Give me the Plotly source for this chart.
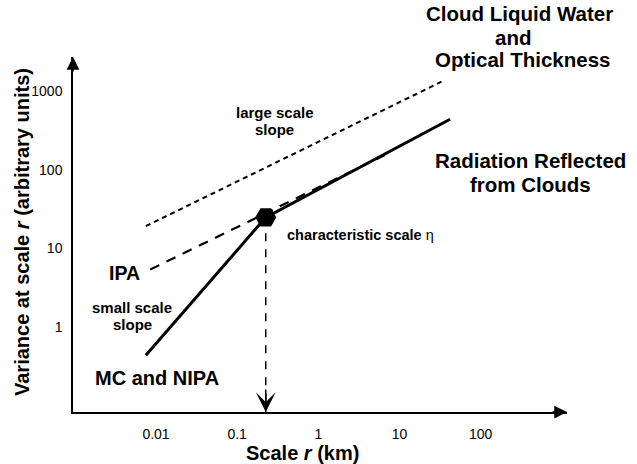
import numpy as np
import plotly.graph_objects as go

# ---- data ----
solid_x = [0.0075, 0.225, 42.0]          # MC / NIPA -> characteristic scale -> radiation
solid_y = [0.44, 24.8, 435.0]
ipa_x = [0.0085, 6.6]                     # IPA dashed line
ipa_y = [5.4, 153.0]
large_x = [0.0075, 33.0]                  # large-scale slope (dotted)
large_y = [19.2, 1306.0]
char_x = [0.225]                          # characteristic scale eta
char_y = [24.8]

x_tickvals = [0.01, 0.1, 1, 10, 100]
x_ticktext = ["0.01", "0.1", "1", "10", "100"]
y_tickvals = [1, 10, 100, 1000]
y_ticktext = ["1", "10", "100", "1000"]

x_range_log = [-3.023, 3.064]
y_range_log = [-1.076, 3.429]

W, H = 637, 464
ML, MR, MT, MB = 73, 70, 57, 52
PW, PH = W - ML - MR, H - MT - MB

FONT = "Liberation Sans, Arial, Helvetica, sans-serif"


def px(x):
    return (x - ML) / PW


def py(y):
    return (H - MB - y) / PH


fig = go.Figure()

fig.add_trace(go.Scatter(x=large_x, y=large_y, mode="lines",
                         line=dict(color="black", width=2, dash="5px,4px"),
                         hoverinfo="skip", showlegend=False))
fig.add_trace(go.Scatter(x=ipa_x, y=ipa_y, mode="lines",
                         line=dict(color="black", width=2.2, dash="10px,8px"),
                         hoverinfo="skip", showlegend=False))
fig.add_trace(go.Scatter(x=solid_x, y=solid_y, mode="lines",
                         line=dict(color="black", width=3),
                         hoverinfo="skip", showlegend=False))
# vertical dashed drop from characteristic scale to the x axis
y_bottom = 10 ** y_range_log[0]
fig.add_trace(go.Scatter(x=[char_x[0], char_x[0]], y=[char_y[0], y_bottom], mode="lines",
                         line=dict(color="black", width=1.5, dash="8px,8px"),
                         hoverinfo="skip", showlegend=False))
fig.add_trace(go.Scatter(x=char_x, y=char_y, mode="markers",
                         marker=dict(symbol="hexagon2", size=21, color="black"),
                         hoverinfo="skip", showlegend=False))

ann = []
# axis arrowheads
ann.append(dict(x=1, y=0, xref="paper", yref="paper", ax=-16, ay=0, text="",
                showarrow=True, arrowhead=2, arrowsize=1.7, arrowwidth=1.5, arrowcolor="black"))
ann.append(dict(x=0, y=1, xref="paper", yref="paper", ax=0, ay=16, text="",
                showarrow=True, arrowhead=2, arrowsize=1.7, arrowwidth=1.5, arrowcolor="black"))
# arrow on the characteristic-scale drop line
ann.append(dict(x=np.log10(char_x[0]), y=y_range_log[0], xref="x", yref="y", ax=0, ay=-24, text="",
                showarrow=True, arrowhead=3, arrowsize=2.2, arrowwidth=1.5, arrowcolor="black"))


def label(text, x, y, size, xanchor="center", angle=0):
    ann.append(dict(x=px(x), y=py(y), xref="paper", yref="paper", text=text,
                    showarrow=False, xanchor=xanchor, yanchor="middle", textangle=angle,
                    font=dict(family=FONT, size=size, color="black")))


label("<b>Cloud Liquid Water</b>", 519, 14, 20.5)
label("<b>and</b>", 513, 37, 20.5)
label("<b>Optical Thickness</b>", 522, 60, 20.5)
label("<b>Radiation Reflected</b>", 530, 160, 20.5)
label("<b>from Clouds</b>", 530, 184, 20.5)
label("<b>large scale</b>", 275, 112, 15)
label("<b>slope</b>", 274, 129, 15)
label("<b>small scale</b>", 131.5, 307.5, 15)
label("<b>slope</b>", 132, 324.5, 15)
label("<b>IPA</b>", 124, 272.5, 19.5)
label("<b>MC and NIPA</b>", 156.5, 377.5, 20)
label("<b>characteristic scale</b> η", 285, 235, 14.5, xanchor="left")
label("<b>Scale <i>r</i> (km)</b>", 302.5, 453, 20)
label("<b>Variance at scale <i>r</i> (arbitrary units)</b>", 22, 232, 20, angle=-90)

axis_common = dict(type="log", showline=True, linecolor="black", linewidth=1.5,
                   showgrid=False, zeroline=False, ticks="", mirror=False,
                   tickfont=dict(family=FONT, size=14, color="black"))

fig.update_layout(
    width=W, height=H,
    margin=dict(l=ML, r=MR, t=MT, b=MB, pad=0),
    paper_bgcolor="white", plot_bgcolor="white",
    xaxis=dict(range=x_range_log, tickvals=x_tickvals, ticktext=x_ticktext,
               ticklabelstandoff=8, **axis_common),
    yaxis=dict(range=y_range_log, tickvals=y_tickvals, ticktext=y_ticktext,
               ticklabelstandoff=6, **axis_common),
    annotations=ann,
    showlegend=False,
)

fig.write_html("out.html")
